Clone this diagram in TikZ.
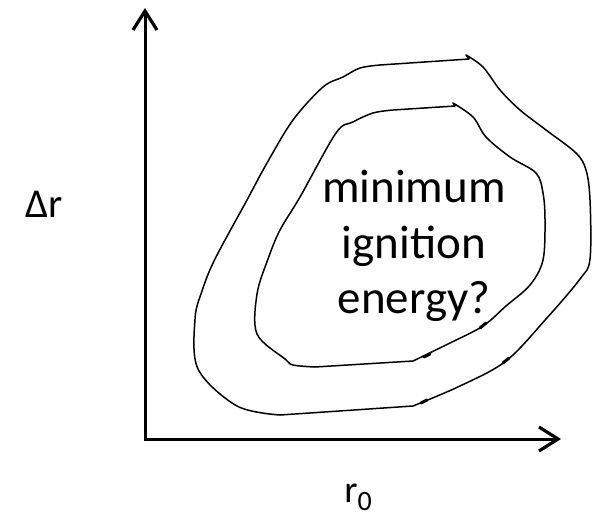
\documentclass[tikz,border=0pt]{standalone}
\usepackage{fontspec}
\setmainfont{Carlito}
\usetikzlibrary{arrows.meta}

\begin{document}
\begin{tikzpicture}[x=1pt,y=-1pt,line width=1.6pt,
  axis/.style={line width=3pt,{Straight Barb[length=19pt,width=24pt,line width=3.2pt]}-{Straight Barb[length=19pt,width=24pt,line width=3.2pt]}},
  contour/.style={line width=1.5pt,line join=round},
  barb/.style={line width=3pt,line cap=round},
  every node/.style={inner sep=0pt}]
  \useasboundingbox (0,0) rectangle (593,519);
  \coordinate (O)    at (145,439);
  \coordinate (ytop) at (145,8);
  \coordinate (xend) at (561,439);
  \draw[axis] (ytop) -- (O) -- (xend);
  % outer loop
  \draw[contour] plot[smooth,tension=.55] coordinates {(466,55) (483,67) (500,90) (520,110)
      (546,130) (576,153) (586,170) (590,200) (590,259) (580,279) (546,319) (506,361)
      (460,386) (413,406)}
    -- plot[smooth,tension=.55] coordinates {(280,415) (237,406) (198,369) (195,319)
      (202,291) (215,259) (247,200) (267,163) (293,120) (323,87) (343,77) (360,68) (380,65)}
    -- (469,59) -- cycle;
  % inner loop
  \draw[contour] plot[smooth,tension=.55] coordinates {(453,103) (473,117) (486,137)
      (510,157) (536,173) (543,193) (545,220) (543,260) (530,285) (506,306) (483,326)
      (450,343) (413,361)}
    -- plot[smooth,tension=.55] coordinates {(315,367) (293,365) (285,359) (257,334)
      (257,294) (268,259) (280,230) (300,197) (336,133) (353,122) (373,113) (393,110)}
    -- (455,106) -- cycle;
  \draw[barb] (421,403) -- (427,400);
  \draw[barb] (503,363) -- (509,358);
  \draw[barb] (424,357) -- (430,354);
  \draw[barb] (480,328) -- (486,323);
  \node[font=\fontsize{47pt}{55.5pt}\selectfont,align=center] (energy) at (414,246)
    {minimum\\ignition\\energy?};
  \node[font=\fontsize{41pt}{44pt}\selectfont,anchor=base] (dr) at (44.5,217) {Δr};
  \node[font=\fontsize{38pt}{40pt}\selectfont,anchor=base] (rzero) at (358,502)
    {r\raisebox{-8pt}{\fontsize{28pt}{30pt}\selectfont 0}};
\end{tikzpicture}
\end{document}
